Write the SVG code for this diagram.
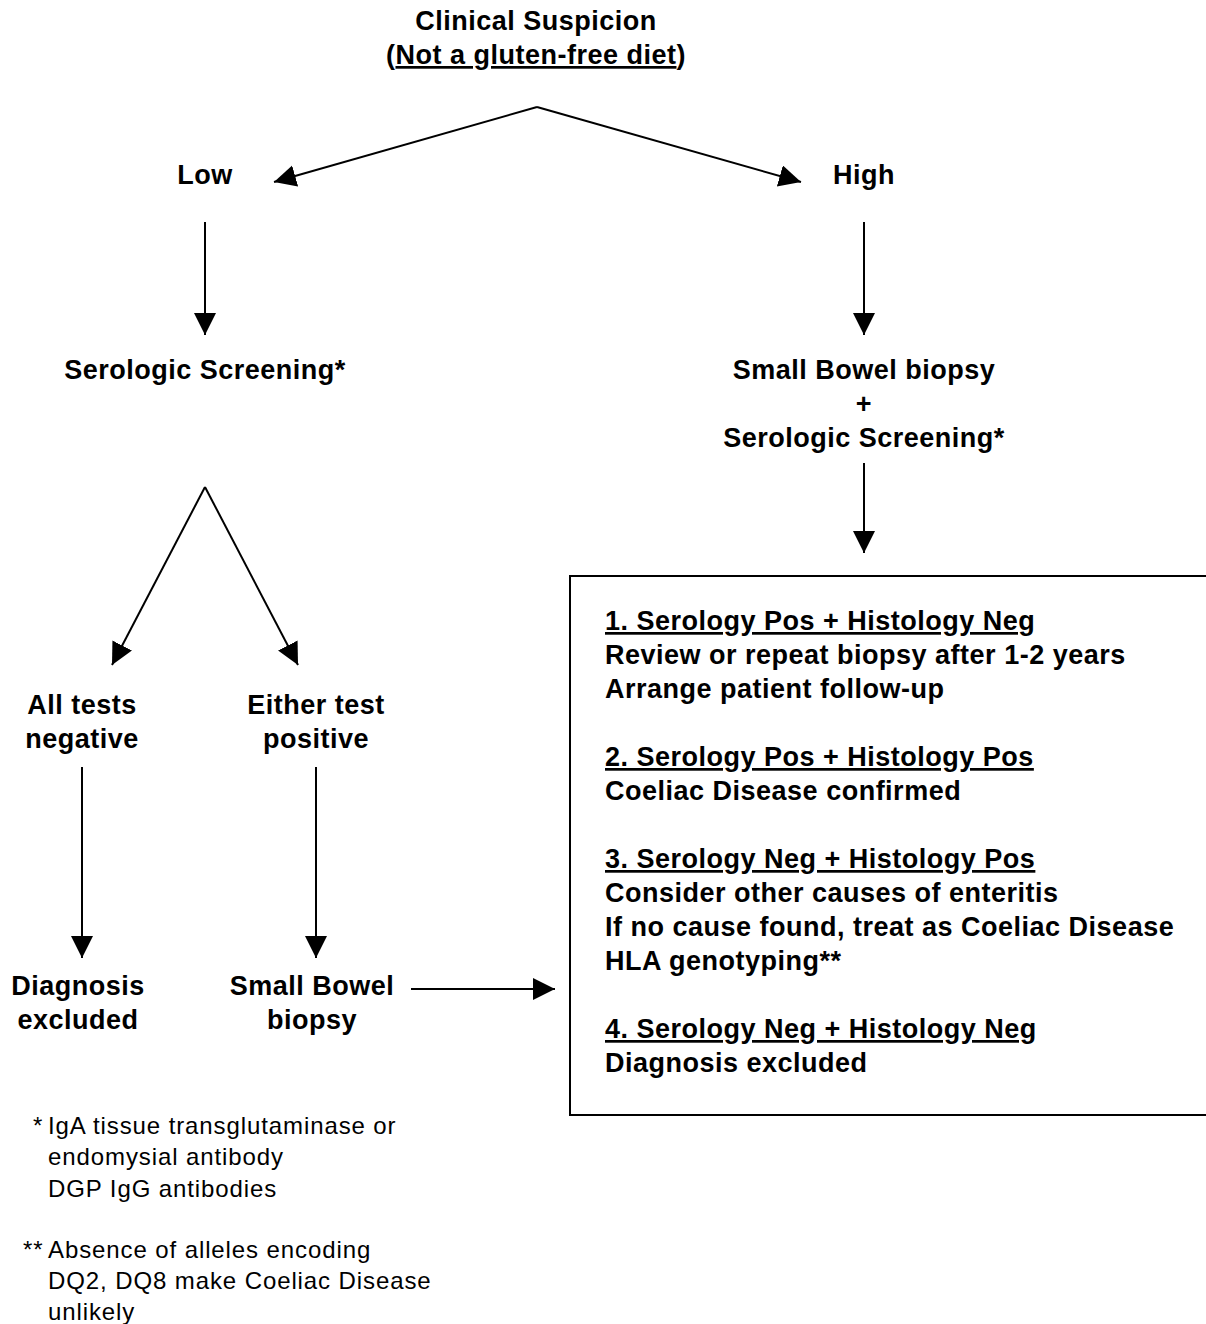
<svg xmlns="http://www.w3.org/2000/svg" width="1206" height="1324" viewBox="0 0 1206 1324">
<style>
.b{font-family:"Liberation Sans",Arial,Helvetica,sans-serif;font-weight:bold;font-size:27px;letter-spacing:0.5px;fill:#000}
.c{text-anchor:middle}
.r{font-family:"Liberation Sans",Arial,Helvetica,sans-serif;font-size:24px;letter-spacing:0.9px;fill:#000}
.u{text-decoration:underline}
.ln{stroke:#000;stroke-width:2;fill:none}
</style>
<defs>
<marker id="ah" markerUnits="userSpaceOnUse" markerWidth="24" markerHeight="24" refX="22" refY="11" orient="auto">
<path d="M0,0 L22,11 L0,22 z" fill="#000"/>
</marker>
</defs>
<rect width="1206" height="1324" fill="#fff"/>
<g id="connectors">
<line class="ln" x1="537" y1="107" x2="274" y2="182" marker-end="url(#ah)"/>
<line class="ln" x1="537" y1="107" x2="801" y2="182" marker-end="url(#ah)"/>
<line class="ln" x1="205" y1="222" x2="205" y2="335" marker-end="url(#ah)"/>
<line class="ln" x1="864" y1="222" x2="864" y2="335" marker-end="url(#ah)"/>
<line class="ln" x1="864" y1="463" x2="864" y2="553" marker-end="url(#ah)"/>
<line class="ln" x1="205" y1="487" x2="112" y2="665" marker-end="url(#ah)"/>
<line class="ln" x1="205" y1="487" x2="298" y2="665" marker-end="url(#ah)"/>
<line class="ln" x1="82" y1="767" x2="82" y2="958" marker-end="url(#ah)"/>
<line class="ln" x1="316" y1="767" x2="316" y2="958" marker-end="url(#ah)"/>
<line class="ln" x1="411" y1="989" x2="555" y2="989" marker-end="url(#ah)"/>
</g>
<g id="clinical">
<text class="b c" x="536" y="30">Clinical Suspicion</text>
<text class="b c" x="536" y="64">(<tspan class="u">Not a gluten-free diet</tspan>)</text>
</g>
<g id="low"><text class="b c" x="205" y="184">Low</text></g>
<g id="high"><text class="b c" x="864" y="184">High</text></g>
<g id="serologic-left"><text class="b c" x="205" y="379">Serologic Screening*</text></g>
<g id="biopsy-serology">
<text class="b c" x="864" y="379">Small Bowel biopsy</text>
<text class="b c" x="864" y="413">+</text>
<text class="b c" x="864" y="447">Serologic Screening*</text>
</g>
<g id="all-negative">
<text class="b c" x="82" y="714">All tests</text>
<text class="b c" x="82" y="748">negative</text>
</g>
<g id="either-positive">
<text class="b c" x="316" y="714">Either test</text>
<text class="b c" x="316" y="748">positive</text>
</g>
<g id="diagnosis-excluded">
<text class="b c" x="78" y="995">Diagnosis</text>
<text class="b c" x="78" y="1029">excluded</text>
</g>
<g id="small-bowel-biopsy">
<text class="b c" x="312" y="995">Small Bowel</text>
<text class="b c" x="312" y="1029">biopsy</text>
</g>
<g id="results-box">
<rect x="570" y="576" width="650" height="539" fill="none" stroke="#000" stroke-width="2"/>
<text class="b u" x="605" y="630">1. Serology Pos + Histology Neg</text>
<text class="b" x="605" y="664">Review or repeat biopsy after 1-2 years</text>
<text class="b" x="605" y="698">Arrange patient follow-up</text>
<text class="b u" x="605" y="766">2. Serology Pos + Histology Pos</text>
<text class="b" x="605" y="800">Coeliac Disease confirmed</text>
<text class="b u" x="605" y="868">3. Serology Neg + Histology Pos</text>
<text class="b" x="605" y="902">Consider other causes of enteritis</text>
<text class="b" x="605" y="936">If no cause found, treat as Coeliac Disease</text>
<text class="b" x="605" y="970">HLA genotyping**</text>
<text class="b u" x="605" y="1038">4. Serology Neg + Histology Neg</text>
<text class="b" x="605" y="1072">Diagnosis excluded</text>
</g>
<g id="footnotes">
<text class="r" x="33" y="1134">*</text>
<text class="r" x="48" y="1134">IgA tissue transglutaminase or</text>
<text class="r" x="48" y="1165">endomysial antibody</text>
<text class="r" x="48" y="1197">DGP IgG antibodies</text>
<text class="r" x="23" y="1258">**</text>
<text class="r" x="48" y="1258">Absence of alleles encoding</text>
<text class="r" x="48" y="1289">DQ2, DQ8 make Coeliac Disease</text>
<text class="r" x="48" y="1320">unlikely</text>
</g>
</svg>
